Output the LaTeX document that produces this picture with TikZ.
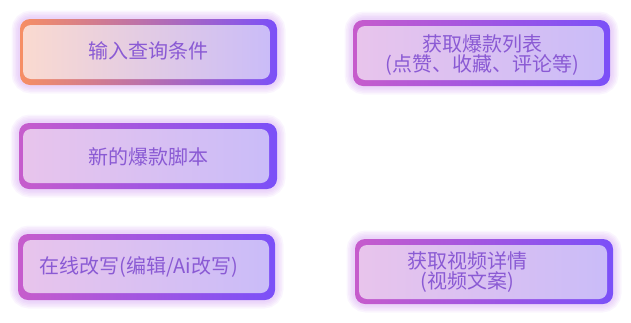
\documentclass[tikz,border=0pt]{standalone}
\usepackage{fontspec}
\newfontfamily\cjk{Noto Sans CJK SC}
\definecolor{vpurp} {RGB}{123, 80,248}
\definecolor{orng}  {RGB}{246,142,100}
\definecolor{mgnt}  {RGB}{198, 92,204}
\definecolor{lpeach}{RGB}{250,218,208}
\definecolor{lpink} {RGB}{232,196,236}
\definecolor{lviol} {RGB}{202,188,248}
\definecolor{tpurp} {RGB}{138, 90,212}
\definecolor{glowc} {RGB}{196,130,238}
\tikzset{
  % Soft glow ring round a card
  Glow/.style={draw=glowc,line width=#1,opacity=0.08,rounded corners=11pt},
  % Gradient border of a card
  Frame/.style={rounded corners=10pt,left color=#1,
                middle color=vpurp!80!#1,right color=vpurp},
  % Gradient inner panel
  Panel/.style={rounded corners=8pt,left color=#1,
                middle color=lviol!85!#1,right color=lviol},
  % Card text
  Lbl/.style={text=tpurp,font=\cjk\fontsize{20}{20}\selectfont,
              align=center,inner sep=0pt},
}

\begin{document}
\begin{tikzpicture}[x=1pt,y=-1pt]
\useasboundingbox (0,0) rectangle (631,322);
% ── Left column ──────────────────────────
\foreach \w in {17,14,11,8,5} \draw[Glow=\w pt] (20,19) rectangle (277,85);
\shade[Frame=orng]   (20,19) rectangle (277,85);
\shade[Panel=lpeach] (23,25) rectangle (270,79);
\node[Lbl] at (148,51) (query) {输入查询条件};

\foreach \w in {17,14,11,8,5} \draw[Glow=\w pt] (19,123) rectangle (277,189);
\shade[Frame=mgnt]  (19,123) rectangle (277,189);
\shade[Panel=lpink] (23,129) rectangle (269,183);
\node[Lbl] at (148,157) (newscript) {新的爆款脚本};

\foreach \w in {17,14,11,8,5} \draw[Glow=\w pt] (18,234) rectangle (275,300);
\shade[Frame=mgnt]  (18,234) rectangle (275,300);
\shade[Panel=lpink] (23,240) rectangle (269,293);
\node[Lbl] at (139,267) (rewrite) {在线改写(编辑/Ai改写)};
% ── Right column ─────────────────────────
\foreach \w in {17,14,11,8,5} \draw[Glow=\w pt] (353,20) rectangle (610,86);
\shade[Frame=mgnt]  (353,20) rectangle (610,86);
\shade[Panel=lpink] (357,26) rectangle (604,80);
\node[Lbl] at (482,55) (hotlist) {获取爆款列表\\(点赞、收藏、评论等)};

\foreach \w in {17,14,11,8,5} \draw[Glow=\w pt] (355,239) rectangle (613,304);
\shade[Frame=mgnt]  (355,239) rectangle (613,304);
\shade[Panel=lpink] (359,245) rectangle (607,299);
\node[Lbl] at (467,272) (detail) {获取视频详情\\(视频文案)};
\end{tikzpicture}
\end{document}
